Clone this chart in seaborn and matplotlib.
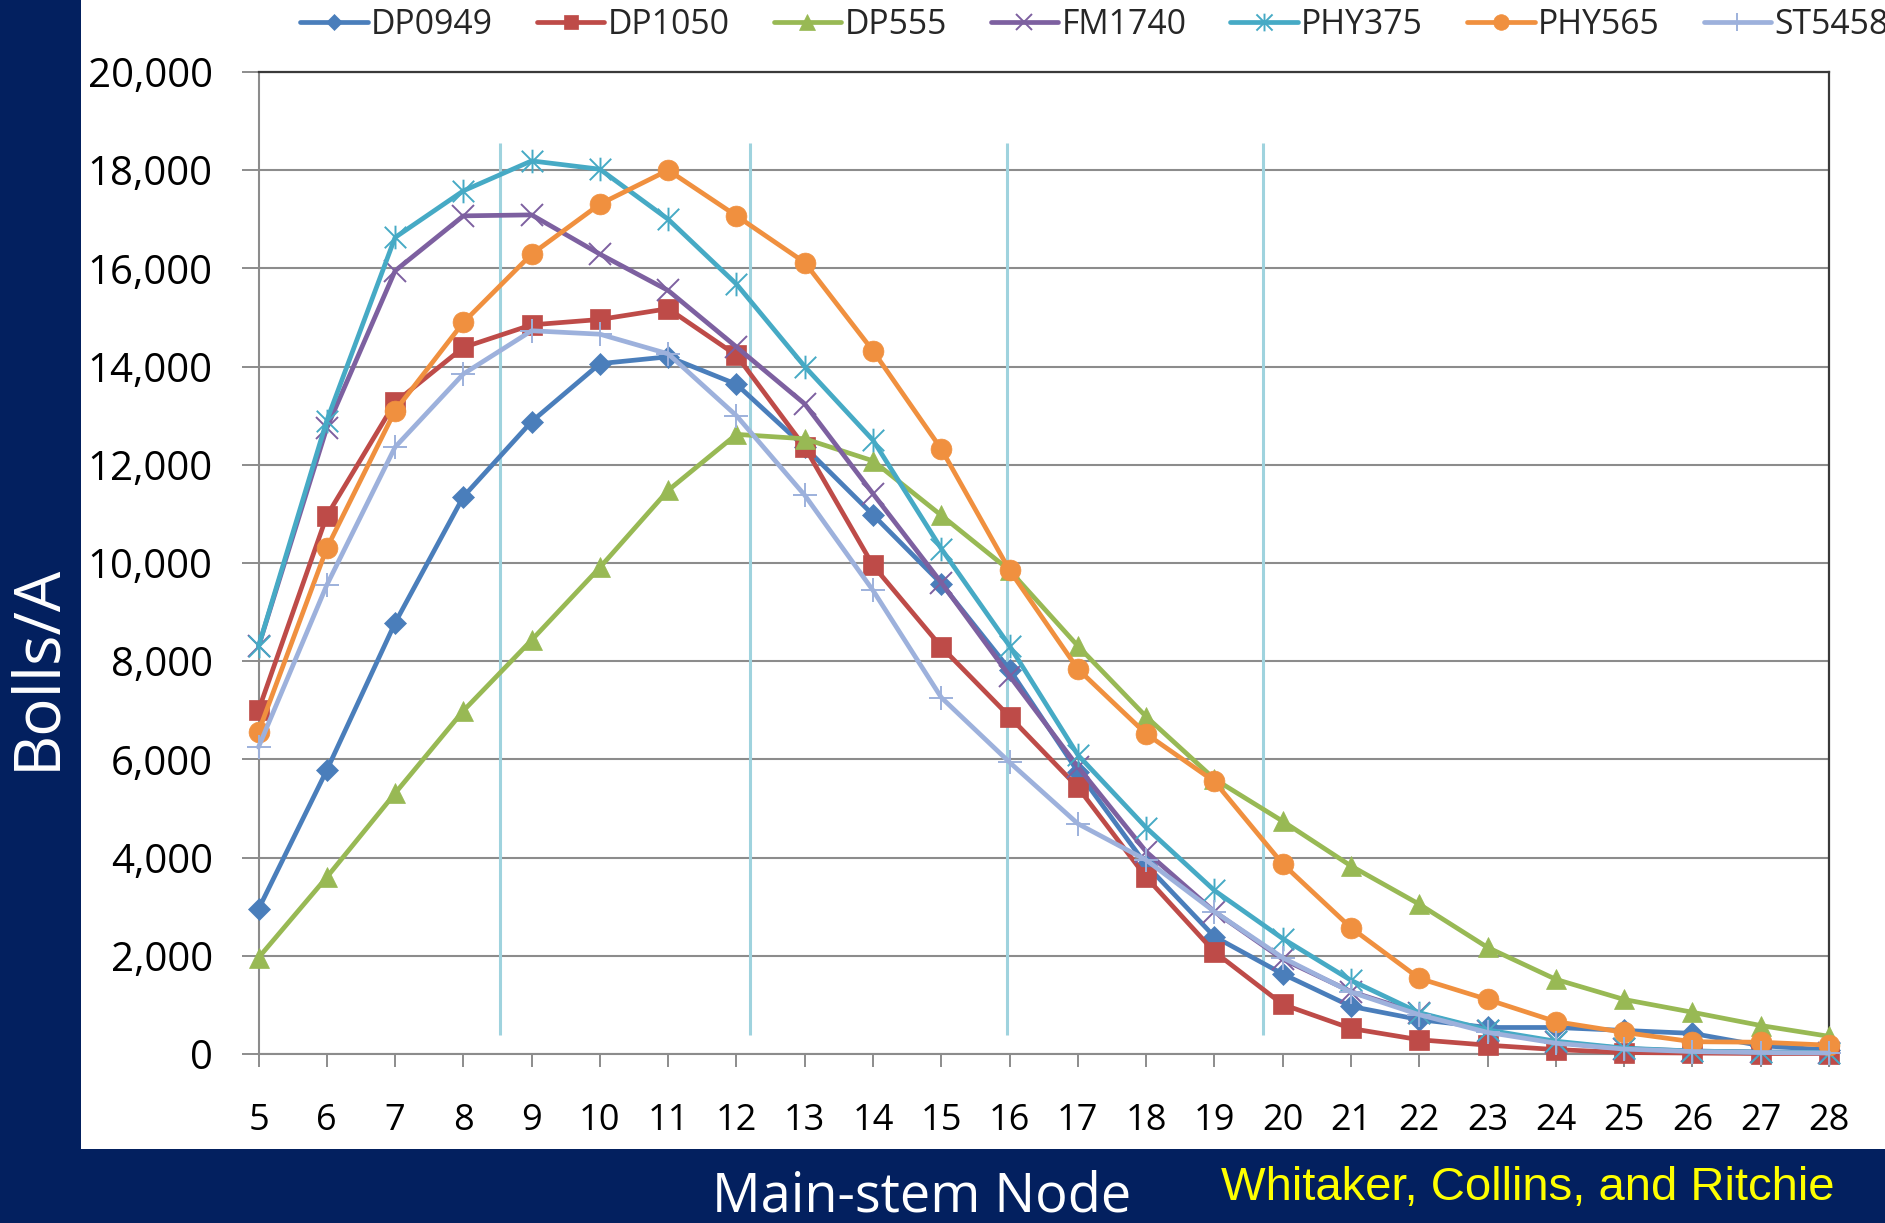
import matplotlib
matplotlib.use("Agg")
import matplotlib.pyplot as plt
import seaborn as sns
import pandas as pd
from matplotlib.path import Path
from matplotlib.patches import Rectangle
from matplotlib.ticker import FuncFormatter, MultipleLocator

# ---------------- data ----------------
nodes = list(range(5, 29))
dp0949 = [2950, 5780, 8780, 11350, 12880, 14060, 14200, 13640, 12360, 10980, 9580, 7830,
          5750, 3850, 2390, 1630, 970, 700, 540, 540, 480, 420, 170, 80]
dp1050 = [7000, 10960, 13270, 14390, 14850, 14960, 15180, 14230, 12360, 9950, 8290, 6870,
          5430, 3600, 2080, 1010, 520, 290, 180, 90, 30, 20, 10, 10]
dp555 = [1960, 3600, 5310, 6990, 8430, 9910, 11480, 12620, 12530, 12080, 10970, 9850,
         8310, 6870, 5600, 4740, 3830, 3050, 2170, 1520, 1110, 850, 580, 360]
fm1740 = [8300, 12750, 15950, 17070, 17090, 16290, 15550, 14400, 13240, 11410, 9600, 7700,
          5850, 4120, 2900, 1930, 1270, 830, 470, 240, 110, 60, 40, 30]
phy375 = [8300, 12900, 16630, 17580, 18190, 18020, 17000, 15680, 14000, 12500, 10290, 8310,
          6090, 4610, 3330, 2350, 1500, 840, 490, 260, 120, 60, 40, 30]
phy565 = [6560, 10300, 13100, 14900, 16290, 17310, 18000, 17070, 16120, 14320, 12320, 9850,
          7840, 6520, 5550, 3870, 2570, 1540, 1110, 660, 440, 250, 240, 180]
st5458 = [6250, 9550, 12360, 13850, 14730, 14660, 14260, 13000, 11380, 9440, 7260, 5940,
          4690, 3950, 2900, 1960, 1260, 800, 440, 220, 100, 50, 30, 20]

series_names = ["DP0949", "DP1050", "DP555", "FM1740", "PHY375", "PHY565", "ST5458"]
series_values = [dp0949, dp1050, dp555, fm1740, phy375, phy565, st5458]

df = pd.DataFrame(
    [(name, n, v) for name, vals in zip(series_names, series_values) for n, v in zip(nodes, vals)],
    columns=["variety", "node", "bolls"],
)

# ---------------- style ----------------
sns.set_theme(style="white")
plt.rcParams["font.family"] = ["Open Sans", "DejaVu Sans"]

W, H = 1885, 1223
fig = plt.figure(figsize=(W / 100, H / 100), dpi=100)
fig.patch.set_facecolor("white")
navy = "#03205F"
fig.patches.append(Rectangle((0, 0), 81 / W, 1, transform=fig.transFigure,
                             facecolor=navy, edgecolor="none", zorder=0))
fig.patches.append(Rectangle((0, 0), 1, (H - 1149) / H, transform=fig.transFigure,
                             facecolor=navy, edgecolor="none", zorder=0))

ax = fig.add_axes([258.5 / W, (H - 1054) / H, (1829 - 258.5) / W, (1054 - 72) / H])
ax.set_facecolor("white")

star = Path([(-0.5, -0.5), (0.5, 0.5), (-0.5, 0.5), (0.5, -0.5), (0, -0.55), (0, 0.55)],
            [Path.MOVETO, Path.LINETO, Path.MOVETO, Path.LINETO, Path.MOVETO, Path.LINETO])

styles = {
    "DP0949": dict(color="#4A7EBB", marker="D", ms=11, mew=0.5),
    "DP1050": dict(color="#BE4B48", marker="s", ms=14, mew=0.5),
    "DP555": dict(color="#98B954", marker="^", ms=15, mew=0.5),
    "FM1740": dict(color="#7D60A0", marker="x", ms=16, mew=1.4),
    "PHY375": dict(color="#46AAC5", marker=star, ms=17, mew=1.4, mfc="none"),
    "PHY565": dict(color="#F0903F", marker="o", ms=15, mew=0.5),
    "ST5458": dict(color="#9DB1DC", marker="+", ms=17, mew=1.4),
}

for name in series_names:
    st = dict(styles[name])
    col = st.pop("color")
    sns.lineplot(data=df[df["variety"] == name], x="node", y="bolls", ax=ax,
                 color=col, mec=col, label=name, lw=3.4, clip_on=False,
                 zorder=3, **st)

leg = ax.get_legend()
if leg is not None:
    leg.remove()

# decorative light-blue vertical lines
ax.vlines([8.54, 12.2, 15.96, 19.71], 380, 18550, color="#9FD3DE", lw=2.2, zorder=1.5)

ax.set_xlim(5, 28)
ax.set_ylim(0, 20000)
ax.set_xticks(nodes)
ax.yaxis.set_major_locator(MultipleLocator(2000))
ax.yaxis.set_major_formatter(FuncFormatter(lambda v, p: f"{v:,.0f}"))
ax.set_xlabel("")
ax.set_ylabel("")

ax.yaxis.grid(True, color="#8C8C8C", lw=1.5)
ax.xaxis.grid(False)
ax.set_axisbelow(True)

for s in ["left", "bottom"]:
    ax.spines[s].set_color("#8C8C8C")
    ax.spines[s].set_linewidth(1.5)
for s in ["top", "right"]:
    ax.spines[s].set_color("#3A3A3A")
    ax.spines[s].set_linewidth(1.6)

ax.tick_params(axis="y", left=True, direction="out", length=12, width=1.4,
               color="#8C8C8C", labelsize=29, pad=21, labelcolor="black")
ax.tick_params(axis="x", bottom=True, direction="out", length=9, width=1.4,
               color="#8C8C8C", labelsize=26, pad=26, labelcolor="black")

# texts
fig.text(37 / W, 1 - 667 / H, "Bolls/A", rotation=90, color="white", fontsize=46,
         ha="center", va="center")
fig.text(922 / W, 1 - 1197 / H, "Main-stem Node", color="white", fontsize=39,
         ha="center", va="center")
fig.text(1528 / W, 1 - 1188 / H, "Whitaker, Collins, and Ritchie", color="#FFFF00",
         fontsize=34, ha="center", va="center", family=["Liberation Sans", "DejaVu Sans"])

handles, labels = ax.get_legend_handles_labels()
fig.legend(handles, labels, loc="center left", bbox_to_anchor=(300 / W, 1 - 25 / H),
           ncol=7, frameon=False, fontsize=24.3, handlelength=2.0, handletextpad=0.1,
           columnspacing=1.3, borderaxespad=0, borderpad=0, markerscale=0.75)

fig.savefig("out.png", dpi=100, facecolor=fig.get_facecolor())
